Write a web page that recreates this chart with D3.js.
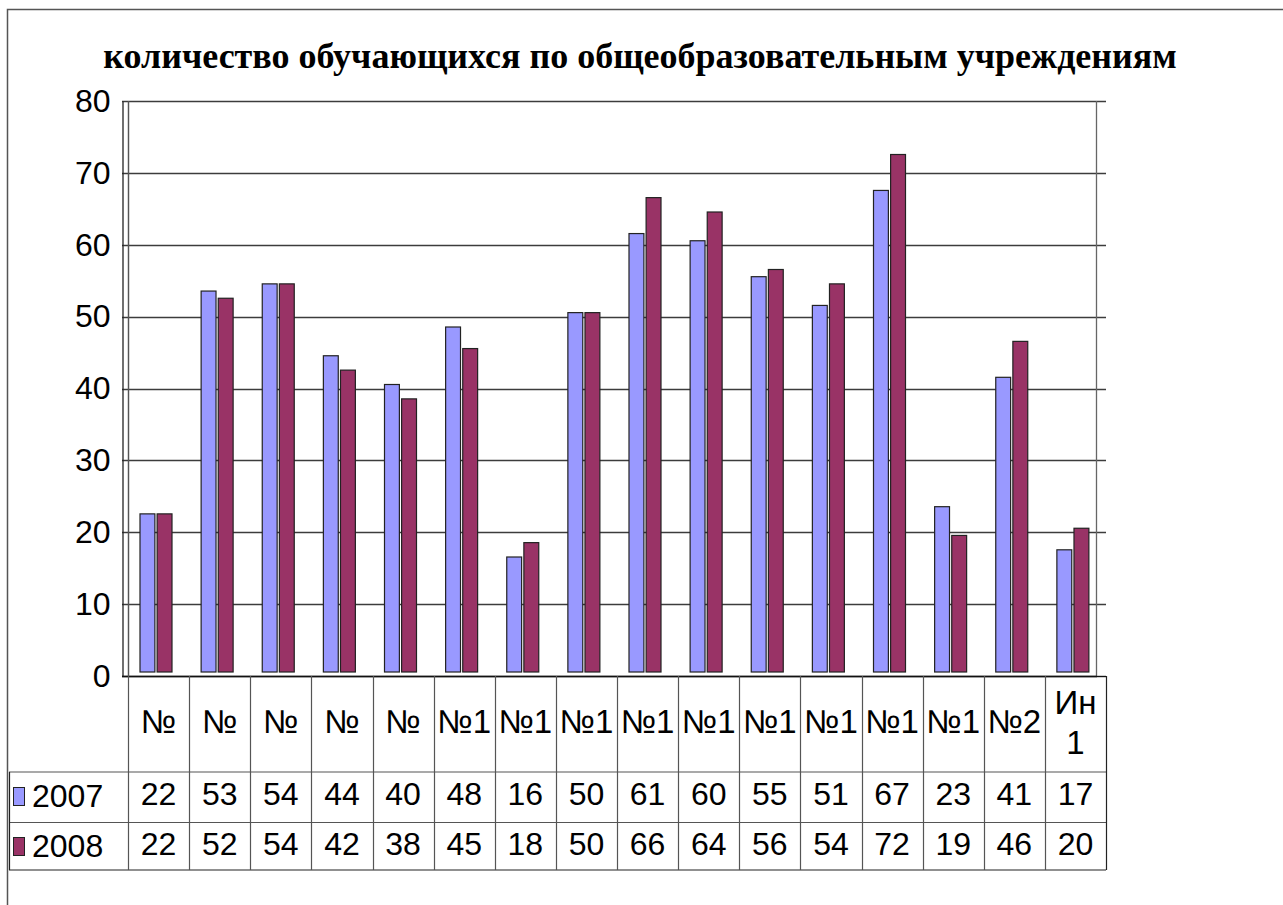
<!DOCTYPE html>
<html>
<head>
<meta charset="utf-8">
<script src="https://cdn.jsdelivr.net/npm/d3@7"></script>
<style>
  body { margin: 0; background: #fff; }
  svg { display: block; }
</style>
</head>
<body>
<div id="chart"></div>
<script>
const title = 'количество обучающихся по общеобразовательным учреждениям';
const categories = ['№', '№', '№', '№', '№', '№1', '№1', '№1', '№1', '№1', '№1', '№1', '№1', '№1', '№2', 'Ин 1'];
const seriesNames = ['2007', '2008'];
const values2007 = [22, 53, 54, 44, 40, 48, 16, 50, 61, 60, 55, 51, 67, 23, 41, 17];
const values2008 = [22, 52, 54, 42, 38, 45, 18, 50, 66, 64, 56, 54, 72, 19, 46, 20];
const yTicks = [0, 10, 20, 30, 40, 50, 60, 70, 80];
const colors = ['#9999ff', '#993366'];

const width = 1283, height = 905;
const plot = {left: 122, inner: 128, right: 1096, top: 101, bottom: 676, gridEnd: 1106};
const table = {left: 9, right: 1106, head: 772, row1: 822.5, bottom: 870};
const barLift = 4; // bars sit a few px above the axis line in the original

const svg = d3.select('#chart').append('svg')
  .attr('width', width)
  .attr('height', height);

// outer frame
svg.append('path')
  .attr('d', `M7.5,${height} V9.5 H${width}`)
  .attr('fill', 'none')
  .attr('stroke', '#555')
  .attr('stroke-width', 1.5);

svg.append('text')
  .attr('x', 640)
  .attr('y', 60)
  .attr('text-anchor', 'middle')
  .attr('dominant-baseline', 'middle')
  .attr('font-family', '"Liberation Serif", "Times New Roman", serif')
  .attr('font-weight', 'bold')
  .attr('font-size', 36)
  .text(title);

const x = d3.scaleBand().domain(d3.range(categories.length)).range([plot.inner, table.right]);
const xInner = d3.scaleBand().domain(seriesNames).range([12, 44]).paddingInner(0.13);
const y = d3.scaleLinear().domain([0, 80]).range([plot.bottom, plot.top]);

// gridlines
svg.append('g').selectAll('line')
  .data(yTicks)
  .enter()
  .append('line')
  .attr('x1', plot.left)
  .attr('x2', plot.gridEnd)
  .attr('y1', d => Math.round(y(d)) + 0.5)
  .attr('y2', d => Math.round(y(d)) + 0.5)
  .attr('stroke', '#3c3c3c')
  .attr('stroke-width', 1.3);

// plot frame
svg.append('line').attr('x1', plot.inner + 0.5).attr('x2', plot.inner + 0.5)
  .attr('y1', plot.top).attr('y2', plot.bottom).attr('stroke', '#666').attr('stroke-width', 1.3);
svg.append('line').attr('x1', plot.right + 0.5).attr('x2', plot.right + 0.5)
  .attr('y1', plot.top).attr('y2', plot.bottom).attr('stroke', '#666').attr('stroke-width', 1.3);

// y axis
const yAxis = svg.append('g')
  .attr('transform', `translate(${plot.left + 0.5},0)`)
  .call(d3.axisLeft(y).tickValues(yTicks).tickSize(0).tickPadding(12));
yAxis.select('.domain').attr('stroke', '#222').attr('stroke-width', 1.3);
yAxis.selectAll('text')
  .attr('font-family', '"Liberation Sans", Arial, sans-serif')
  .attr('font-size', 32)
  .attr('fill', '#000');

// bars
const series = [values2007, values2008];
series.forEach((vals, s) => {
  svg.append('g').selectAll('rect')
    .data(vals)
    .enter()
    .append('rect')
    .attr('x', (d, i) => x(i) + xInner(seriesNames[s]))
    .attr('y', d => y(d) - barLift)
    .attr('width', xInner.bandwidth())
    .attr('height', d => y(0) - y(d))
    .attr('fill', colors[s])
    .attr('stroke', '#222')
    .attr('stroke-width', 1.2);
});

// x axis line
svg.append('line').attr('x1', plot.left).attr('x2', plot.right + 1)
  .attr('y1', plot.bottom + 0.5).attr('y2', plot.bottom + 0.5)
  .attr('stroke', '#111').attr('stroke-width', 1.5);

// data table
const tbl = svg.append('g').attr('stroke', '#555').attr('stroke-width', 1.2);
tbl.append('line').attr('x1', table.left).attr('x2', table.right).attr('y1', table.head).attr('y2', table.head);
tbl.append('line').attr('x1', table.left).attr('x2', table.right).attr('y1', table.row1).attr('y2', table.row1);
tbl.append('line').attr('x1', table.left).attr('x2', table.right).attr('y1', table.bottom).attr('y2', table.bottom).attr('stroke', '#222');
tbl.append('line').attr('x1', table.left + 0.5).attr('x2', table.left + 0.5).attr('y1', table.head).attr('y2', table.bottom).attr('stroke', '#222');
tbl.append('line').attr('x1', x(0) - 2).attr('x2', table.right).attr('y1', plot.bottom + 0.5).attr('y2', plot.bottom + 0.5).attr('stroke', '#111');
tbl.selectAll('.vline')
  .data(d3.range(categories.length + 1))
  .enter()
  .append('line')
  .attr('x1', i => Math.round(plot.inner + i * x.step()) + 0.5)
  .attr('x2', i => Math.round(plot.inner + i * x.step()) + 0.5)
  .attr('y1', i => i === 0 ? plot.top : plot.bottom)
  .attr('y2', table.bottom)
  .attr('stroke', i => i === categories.length ? '#222' : '#555');

const font = '"Liberation Sans", Arial, sans-serif';
const headers = svg.append('g').attr('font-family', font).attr('font-size', 33).attr('text-anchor', 'middle');
categories.forEach((c, i) => {
  const parts = c.split(' ');
  const cx = x(i) + x.bandwidth() / 2;
  const t = headers.append('text').attr('x', cx).attr('dominant-baseline', 'middle');
  if (parts.length === 1) {
    t.attr('y', 724).text(c);
  } else {
    parts.forEach((p, k) => t.append('tspan').attr('x', cx).attr('y', 705 + k * 40).text(p));
  }
});

const rowsY = [797, 847];
series.forEach((vals, s) => {
  const g = svg.append('g').attr('font-family', font).attr('font-size', 32);
  g.append('rect')
    .attr('x', 13.5).attr('y', rowsY[s] - 9.5)
    .attr('width', 11).attr('height', 18)
    .attr('fill', colors[s]).attr('stroke', '#222').attr('stroke-width', 1);
  g.append('text').attr('x', 32).attr('y', rowsY[s] + 2)
    .attr('dominant-baseline', 'middle').text(seriesNames[s]);
  g.selectAll('.v')
    .data(vals)
    .enter()
    .append('text')
    .attr('x', (d, i) => x(i) + x.bandwidth() / 2)
    .attr('y', rowsY[s])
    .attr('text-anchor', 'middle')
    .attr('dominant-baseline', 'middle')
    .text(d => d);
});
</script>
</body>
</html>
